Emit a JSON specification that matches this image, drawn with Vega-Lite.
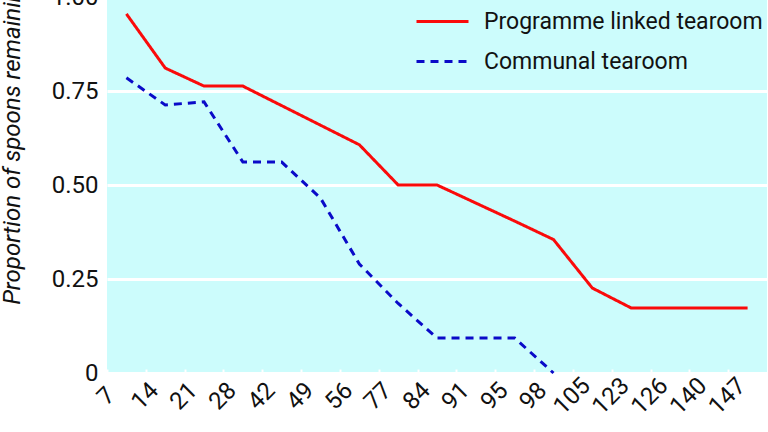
{
  "$schema": "https://vega.github.io/schema/vega-lite/v6.json",
  "width": 660,
  "height": 376,
  "autosize": {"type": "none"},
  "padding": {"left": 107, "top": -3, "right": 1, "bottom": 59},
  "background": "white",
  "config": {
    "view": {"fill": "#ccfcfc", "stroke": null},
    "font": "Roboto, sans-serif"
  },
  "data": {
    "values": [
      {"day": "7", "group": "Programme linked tearoom", "p": 0.955},
      {"day": "14", "group": "Programme linked tearoom", "p": 0.811},
      {"day": "21", "group": "Programme linked tearoom", "p": 0.763},
      {"day": "28", "group": "Programme linked tearoom", "p": 0.763},
      {"day": "42", "group": "Programme linked tearoom", "p": 0.711},
      {"day": "49", "group": "Programme linked tearoom", "p": 0.659},
      {"day": "56", "group": "Programme linked tearoom", "p": 0.607},
      {"day": "77", "group": "Programme linked tearoom", "p": 0.5},
      {"day": "84", "group": "Programme linked tearoom", "p": 0.5},
      {"day": "91", "group": "Programme linked tearoom", "p": 0.452},
      {"day": "95", "group": "Programme linked tearoom", "p": 0.404},
      {"day": "98", "group": "Programme linked tearoom", "p": 0.355},
      {"day": "105", "group": "Programme linked tearoom", "p": 0.226},
      {"day": "123", "group": "Programme linked tearoom", "p": 0.173},
      {"day": "126", "group": "Programme linked tearoom", "p": 0.173},
      {"day": "140", "group": "Programme linked tearoom", "p": 0.173},
      {"day": "147", "group": "Programme linked tearoom", "p": 0.173},
      {"day": "7", "group": "Communal tearoom", "p": 0.785},
      {"day": "14", "group": "Communal tearoom", "p": 0.713},
      {"day": "21", "group": "Communal tearoom", "p": 0.721},
      {"day": "28", "group": "Communal tearoom", "p": 0.561},
      {"day": "42", "group": "Communal tearoom", "p": 0.561},
      {"day": "49", "group": "Communal tearoom", "p": 0.465},
      {"day": "56", "group": "Communal tearoom", "p": 0.29},
      {"day": "77", "group": "Communal tearoom", "p": 0.185},
      {"day": "84", "group": "Communal tearoom", "p": 0.093},
      {"day": "91", "group": "Communal tearoom", "p": 0.093},
      {"day": "95", "group": "Communal tearoom", "p": 0.093},
      {"day": "98", "group": "Communal tearoom", "p": 0.0}
    ]
  },
  "mark": {"type": "line", "strokeWidth": 3},
  "encoding": {
    "x": {
      "field": "day",
      "type": "ordinal",
      "sort": ["7","14","21","28","42","49","56","77","84","91","95","98","105","123","126","140","147"],
      "bandPosition": 0.5,
      "scale": {"type": "band", "paddingInner": 0, "paddingOuter": 0},
      "axis": {
        "title": null,
        "domain": false,
        "ticks": true,
        "tickColor": "white",
        "tickSize": -4,
        "tickOffset": -19.4,
        "tickWidth": 2,
        "labelAngle": -45,
        "labelAlign": "center",
        "labelBaseline": "middle",
        "labelFontSize": 24,
        "labelColor": "#111111",
        "labelPadding": 27,
        "labelOffset": -1,
        "labelFont": "Roboto, sans-serif"
      }
    },
    "y": {
      "field": "p",
      "type": "quantitative",
      "scale": {"domain": [0, 1], "nice": false, "zero": true},
      "axis": {
        "values": [0, 0.25, 0.5, 0.75, 1],
        "labelExpr": "datum.value == 0 ? '0' : format(datum.value, '.2f')",
        "domain": false,
        "ticks": false,
        "grid": true,
        "gridColor": "white",
        "gridWidth": 3,
        "gridOpacity": 1,
        "labelFontSize": 24,
        "labelColor": "#111111",
        "labelPadding": 9,
        "labelFont": "Roboto, sans-serif",
        "title": "Proportion of spoons remaining",
        "titleFont": "Roboto, sans-serif",
        "titleFontStyle": "italic",
        "titleFontWeight": "normal",
        "titleFontSize": 24,
        "titleColor": "#111111",
        "titleAngle": -90,
        "titleAlign": "center",
        "titleBaseline": "middle",
        "titleX": -95,
        "titleY": 143
      }
    },
    "color": {
      "field": "group",
      "type": "nominal",
      "sort": ["Programme linked tearoom", "Communal tearoom"],
      "scale": {"domain": ["Programme linked tearoom", "Communal tearoom"], "range": ["#fa0a0a", "#0a0ac8"]},
      "legend": {
        "title": null,
        "orient": "none",
        "legendX": 308,
        "legendY": -3,
        "padding": 0,
        "symbolType": "stroke",
        "symbolSize": 2704,
        "symbolStrokeWidth": 3,
        "labelFontSize": 23,
        "labelLimit": 400,
        "labelColor": "#111111",
        "labelFont": "Roboto, sans-serif",
        "labelOffset": 14,
        "rowPadding": -3
      }
    },
    "strokeDash": {
      "field": "group",
      "type": "nominal",
      "scale": {"domain": ["Programme linked tearoom", "Communal tearoom"], "range": [[1, 0], [8, 6]]},
      "legend": null
    }
  }
}
